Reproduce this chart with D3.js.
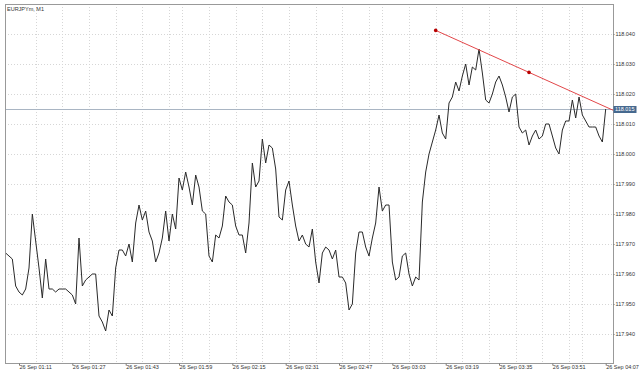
<!DOCTYPE html>
<html>
<head>
<meta charset="utf-8">
<script src="https://cdn.jsdelivr.net/npm/d3@7"></script>
<style>
  body { margin: 0; background: #fff; }
  svg text { font-family: "Liberation Sans", Arial, sans-serif; font-size: 5.5px; fill: #333; }
</style>
</head>
<body>
<svg width="640" height="374"></svg>
<script>
// EURJPYm, M1 - 1분봉 종가 (26 Sep 01:07 ~ 04:07)

var title = "EURJPYm, M1";
var firstBar = "2016-09-26 01:07";

var closes = [
  117.967, 117.966, 117.965, 117.956, 117.954, 117.953, 117.955, 117.962, 117.980, 117.971,
  117.962, 117.952, 117.965, 117.955, 117.955, 117.954, 117.955, 117.955, 117.955, 117.954,
  117.953, 117.950, 117.972, 117.956, 117.958, 117.959, 117.960, 117.960, 117.946, 117.944,
  117.941, 117.948, 117.946, 117.962, 117.968, 117.968, 117.966, 117.970, 117.964, 117.977,
  117.983, 117.978, 117.981, 117.974, 117.971, 117.964, 117.967, 117.972, 117.981, 117.971,
  117.980, 117.975, 117.992, 117.988, 117.994, 117.989, 117.983, 117.993, 117.989, 117.981,
  117.980, 117.966, 117.964, 117.973, 117.972, 117.976, 117.986, 117.984, 117.983, 117.976,
  117.973, 117.973, 117.967, 117.977, 117.997, 117.989, 117.991, 118.005, 117.997, 118.003,
  118.002, 117.995, 117.979, 117.978, 117.988, 117.991, 117.983, 117.976, 117.971, 117.973,
  117.970, 117.969, 117.975, 117.964, 117.957, 117.967, 117.969, 117.968, 117.965, 117.968,
  117.959, 117.959, 117.957, 117.948, 117.950, 117.967, 117.974, 117.974, 117.969, 117.966,
  117.972, 117.977, 117.989, 117.981, 117.983, 117.983, 117.964, 117.958, 117.959, 117.966,
  117.967, 117.960, 117.956, 117.959, 117.958, 117.984, 117.994, 118.000, 118.004, 118.008,
  118.013, 118.007, 118.005, 118.017, 118.019, 118.024, 118.021, 118.026, 118.030, 118.023,
  118.029, 118.028, 118.035, 118.027, 118.018, 118.017, 118.020, 118.024, 118.026, 118.023,
  118.019, 118.014, 118.019, 118.020, 118.009, 118.007, 118.008, 118.003, 118.006, 118.008,
  118.005, 118.006, 118.010, 118.010, 118.006, 118.002, 118.000, 118.008, 118.011, 118.011,
  118.018, 118.012, 118.019, 118.013, 118.011, 118.009, 118.009, 118.009, 118.006, 118.004,
  118.015
];

var yTicks = [117.940, 117.950, 117.960, 117.970, 117.980, 117.990, 118.000, 118.010, 118.020, 118.030, 118.040];
var xTicks = ["01:11", "01:27", "01:43", "01:59", "02:15", "02:31", "02:47", "03:03", "03:19", "03:35", "03:51", "04:07"];

// 추세선 (두 기준점) 과 현재가
var trendTimes = ["03:16", "04:12"];
var trendPrices = [118.0412, 118.0132];
var bid = 118.015;

var svg = d3.select("svg");
var parseTime = d3.timeParse("%Y-%m-%d %H:%M");
var t0 = parseTime(firstBar);
var day = firstBar.slice(0, 10) + " ";

function atTime(hm) { return parseTime(day + hm); }

var bars = closes.map(function(c, i) {
  return {time: d3.timeMinute.offset(t0, i), close: c};
});

// 차트 영역 테두리
var plot = {left: 5, top: 4, right: 613, bottom: 363};

var xScale = d3.scaleTime()
  .domain([atTime(xTicks[0]), atTime(xTicks[xTicks.length - 1])])
  .range([19, 605.7]);
var yScale = d3.scaleLinear()
  .domain([117.940, 118.040])
  .range([334, 34]);

svg.append("clipPath").attr("id", "plotClip")
  .append("rect")
  .attr("x", plot.left).attr("y", plot.top)
  .attr("width", plot.right - plot.left).attr("height", plot.bottom - plot.top);

// 격자 (8분 간격 세로선)
var gridTimes = d3.timeMinute.every(8).range(atTime(xTicks[0]), d3.timeMinute.offset(atTime(xTicks[xTicks.length - 1]), 1));

svg.append("g").selectAll("line.vgrid")
  .data(gridTimes)
  .enter()
  .append("line")
  .attr("class", "vgrid")
  .attr("x1", function(d) { return Math.round(xScale(d)) + 0.5; })
  .attr("x2", function(d) { return Math.round(xScale(d)) + 0.5; })
  .attr("y1", plot.top)
  .attr("y2", plot.bottom)
  .attr("stroke", "#d6d6d6")
  .attr("stroke-dasharray", "1,2");

svg.append("g").selectAll("line.hgrid")
  .data(yTicks)
  .enter()
  .append("line")
  .attr("class", "hgrid")
  .attr("x1", plot.left)
  .attr("x2", plot.right)
  .attr("y1", function(d) { return Math.round(yScale(d)) + 0.5; })
  .attr("y2", function(d) { return Math.round(yScale(d)) + 0.5; })
  .attr("stroke", "#d6d6d6")
  .attr("stroke-dasharray", "1,2");

// 현재가 선
svg.append("line")
  .attr("x1", plot.left)
  .attr("x2", plot.right)
  .attr("y1", Math.round(yScale(bid)) + 0.5)
  .attr("y2", Math.round(yScale(bid)) + 0.5)
  .attr("stroke", "#a9b5c3");

// 종가 선
var closeLine = d3.line()
  .x(function(d) { return xScale(d.time); })
  .y(function(d) { return yScale(d.close); });

svg.append("path")
  .attr("d", closeLine(bars))
  .attr("fill", "none")
  .attr("stroke", "#2a2a2a")
  .attr("stroke-width", 1)
  .attr("clip-path", "url(#plotClip)");

// 추세선
var trend = trendTimes.map(function(t, i) {
  return {time: atTime(t), price: trendPrices[i]};
});
var trendMid = {
  time: new Date((trend[0].time.getTime() + trend[1].time.getTime()) / 2),
  price: (trend[0].price + trend[1].price) / 2
};

svg.append("line")
  .attr("x1", xScale(trend[0].time))
  .attr("y1", yScale(trend[0].price))
  .attr("x2", xScale(trend[1].time))
  .attr("y2", yScale(trend[1].price))
  .attr("stroke", "#e2474a")
  .attr("stroke-width", 1)
  .attr("clip-path", "url(#plotClip)");

svg.append("g").selectAll("circle")
  .data([trend[0], trendMid, trend[1]])
  .enter()
  .append("circle")
  .attr("cx", function(d) { return xScale(d.time); })
  .attr("cy", function(d) { return yScale(d.price); })
  .attr("r", 1.8)
  .attr("fill", "#b80000")
  .attr("clip-path", "url(#plotClip)");

// 테두리
svg.append("rect")
  .attr("x", plot.left + 0.5)
  .attr("y", plot.top + 0.5)
  .attr("width", plot.right - plot.left)
  .attr("height", plot.bottom - plot.top)
  .attr("fill", "none")
  .attr("stroke", "#999");

// y축 (오른쪽)
var yAxis = d3.axisRight(yScale)
  .tickValues(yTicks)
  .tickFormat(d3.format(".3f"))
  .tickSize(1)
  .tickPadding(1);

svg.append("g")
  .attr("transform", "translate(" + (plot.right + 0.5) + ",0)")
  .call(yAxis)
  .call(function(g) {
    g.select(".domain").remove();
    g.selectAll("line").attr("stroke", "#777");
    g.selectAll("text").attr("fill", "#333").style("font-size", "5.5px");
  });

// x축 (아래)
var xAxis = d3.axisBottom(xScale)
  .tickValues(xTicks.map(atTime))
  .tickFormat(d3.timeFormat("%d %b %H:%M"))
  .tickSize(2)
  .tickPadding(0);

svg.append("g")
  .attr("transform", "translate(0," + (plot.bottom + 0.5) + ")")
  .call(xAxis)
  .call(function(g) {
    g.select(".domain").remove();
    g.selectAll("line").attr("stroke", "#777");
    g.selectAll("text")
      .attr("text-anchor", "start")
      .attr("fill", "#333")
      .style("font-size", "5.5px");
  });

// 현재가 라벨
var bidY = Math.round(yScale(bid)) + 0.5;
svg.append("rect")
  .attr("x", plot.right + 0.5)
  .attr("y", bidY - 3.5)
  .attr("width", 23)
  .attr("height", 7)
  .attr("fill", "#46698f");

svg.append("text")
  .attr("x", plot.right + 2)
  .attr("y", bidY)
  .attr("dy", "0.35em")
  .style("fill", "#fff")
  .text(d3.format(".3f")(bid));

// 제목
svg.append("text")
  .attr("x", 7)
  .attr("y", 11)
  .text(title);
</script>
</body>
</html>
